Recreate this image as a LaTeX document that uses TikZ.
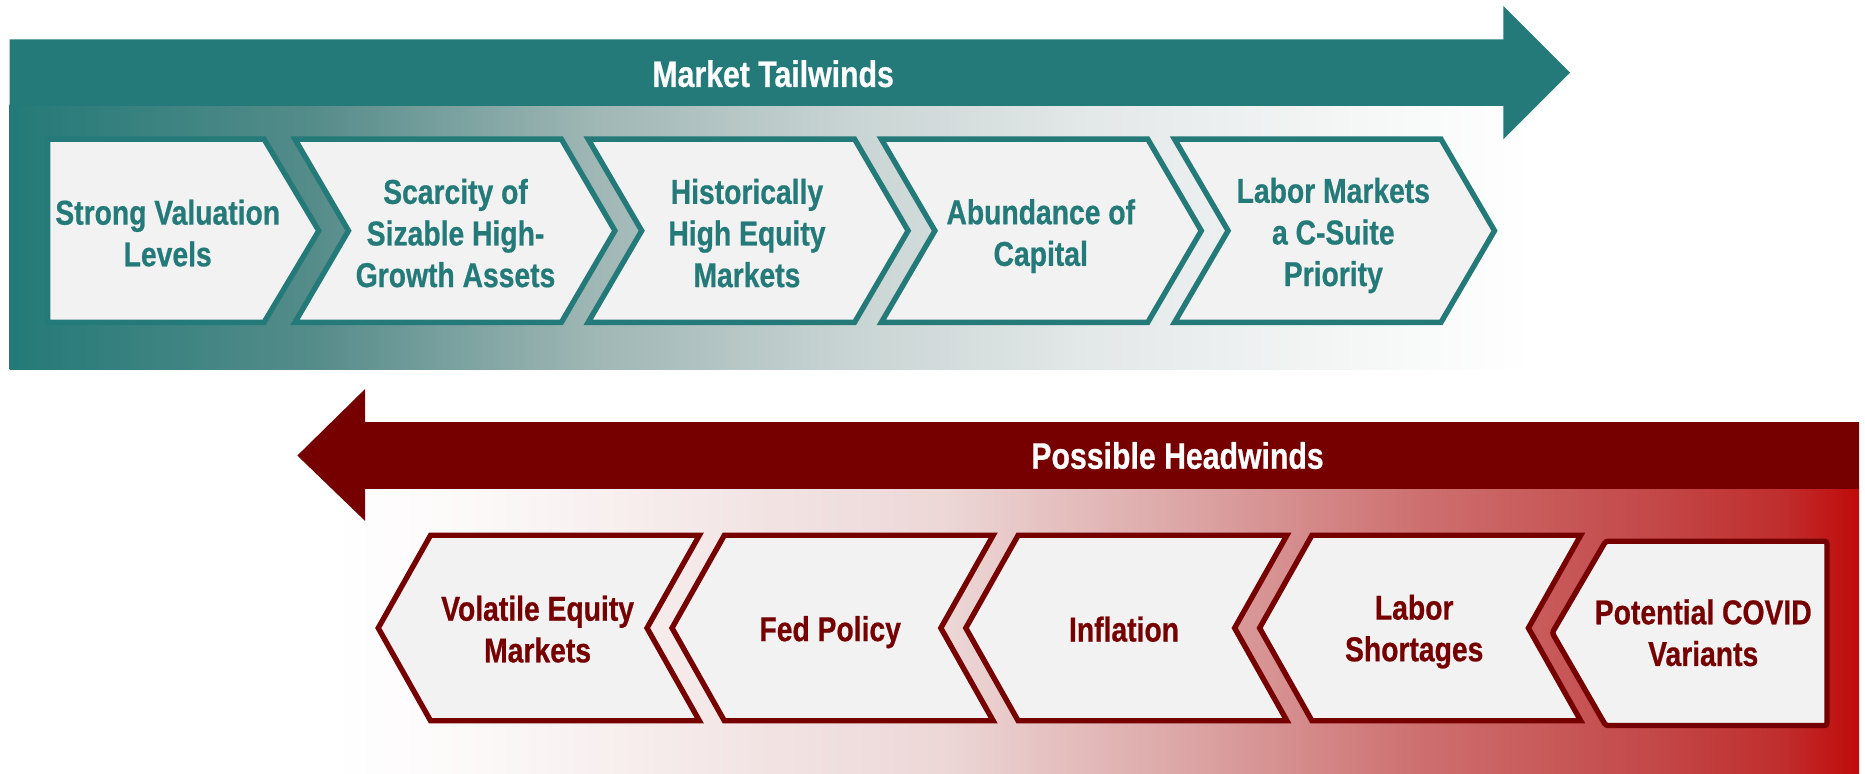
\documentclass[tikz,border=0pt]{standalone}
\usepackage{fontspec}
\setmainfont{Liberation Sans}[FakeStretch=0.82, BoldFeatures={FakeBold=0.6}]
\definecolor{teal1}{RGB}{35,122,120}
\definecolor{dred}{RGB}{118,0,0}
\definecolor{boxfill}{RGB}{242,242,242}
\definecolor{tA}{RGB}{85,140,138}
\definecolor{tB}{RGB}{158,182,180}
\definecolor{tC}{RGB}{200,212,211}
\definecolor{tD}{RGB}{226,231,231}
\definecolor{tE}{RGB}{242,244,244}
\definecolor{rA}{RGB}{252,248,248}
\definecolor{rB}{RGB}{244,231,231}
\definecolor{rC}{RGB}{237,215,215}
\definecolor{rD}{RGB}{220,165,165}
\definecolor{rE}{RGB}{205,110,110}
\definecolor{rF}{RGB}{195,70,70}
\definecolor{rG}{RGB}{192,45,45}
\definecolor{rH}{RGB}{192,10,10}
\pgfdeclarehorizontalshading{tealfade}{100bp}{color(0bp)=(teal1); color(25bp)=(teal1); color(35bp)=(tA); color(44bp)=(tB); color(52.5bp)=(tC); color(60bp)=(tD); color(67.5bp)=(tE); color(75bp)=(white); color(100bp)=(white)}
\pgfdeclarehorizontalshading{redfade}{100bp}{color(0bp)=(white); color(25bp)=(white); color(30bp)=(rA); color(37.5bp)=(rB); color(45bp)=(rC); color(53bp)=(rD); color(60.8bp)=(rE); color(68.6bp)=(rF); color(72.5bp)=(rG); color(75bp)=(rH); color(100bp)=(rH)}
\begin{document}
\begin{tikzpicture}[x=1pt,y=-1pt,
  tbox/.style={draw=teal1, line width=4.5pt, fill=boxfill},
  rbox/.style={draw=dred, line width=4.5pt, fill=boxfill},
  ttext/.style={text=teal1, font=\bfseries\fontsize{29}{35}\selectfont, align=center, inner sep=0pt},
  rtext/.style={text=dred, font=\bfseries\fontsize{29}{35}\selectfont, align=center, inner sep=0pt},
  titletext/.style={text=white, font=\bfseries\fontsize{31}{37}\selectfont, inner sep=0pt}]
\useasboundingbox (0,0) rectangle (1568,650.7);
% top arrow
\shade[shading=tealfade] (8,88) rectangle (1290,311);
\fill[teal1] (8,33) -- (1264,33) -- (1264,5) -- (1320,61) -- (1264,117) -- (1264,89) -- (8,89) -- cycle;
\node[titletext] (tw) at (650,62) {Market Tailwinds};
% top chevrons
\draw[tbox] (40,117) -- (222,117) -- (268,194) -- (222,271) -- (40,271) -- cycle;
\draw[tbox] (248,117) -- (472,117) -- (517,194) -- (472,271) -- (248,271) -- (293,194) -- cycle;
\draw[tbox] (494.5,117) -- (718.5,117) -- (763.5,194) -- (718.5,271) -- (494.5,271) -- (539.5,194) -- cycle;
\draw[tbox] (741,117) -- (965,117) -- (1010,194) -- (965,271) -- (741,271) -- (786,194) -- cycle;
\draw[tbox] (987.5,117) -- (1211.5,117) -- (1256.5,194) -- (1211.5,271) -- (987.5,271) -- (1032.5,194) -- cycle;
\node[ttext] (t1) at (141,196) {Strong Valuation\\Levels};
\node[ttext] (t2) at (383,196) {Scarcity of\\Sizable High-\\Growth Assets};
\node[ttext] (t3) at (628,196) {Historically\\High Equity\\Markets};
\node[ttext] (t4) at (875,198.5) {Abundance of\\Capital};
\node[ttext] (t5) at (1121,198) {Labor Markets\\a C-Suite\\Priority};
% bottom arrow
\shade[shading=redfade] (280,410) rectangle (1563,650.7);
\fill[dred] (1563,355) -- (307,355) -- (307,327) -- (250,383) -- (307,438) -- (307,411) -- (1563,411) -- cycle;
\node[titletext] (hw) at (990,383) {Possible Headwinds};
% bottom chevrons
\draw[rbox] (318,528) -- (362,450) -- (588,450) -- (544,528) -- (588,606) -- (362,606) -- cycle;
\draw[rbox] (565,528) -- (609,450) -- (835,450) -- (791,528) -- (835,606) -- (609,606) -- cycle;
\draw[rbox] (812,528) -- (856,450) -- (1082,450) -- (1038,528) -- (1082,606) -- (856,606) -- cycle;
\draw[rbox] (1059,528) -- (1103,450) -- (1329,450) -- (1285,528) -- (1329,606) -- (1103,606) -- cycle;
\draw[rbox, rounded corners=2pt] (1305,532) -- (1350,455) -- (1536,455) -- (1536,610) -- (1350,610) -- cycle;
\node[rtext] (h1) at (452,529) {Volatile Equity\\Markets};
\node[rtext] (h2) at (698,531.5) {Fed Policy};
\node[rtext] (h3) at (945,529) {Inflation};
\node[rtext] (h4) at (1189,531) {Labor\\Shortages};
\node[rtext] (h5) at (1432,532) {Potential COVID\\Variants};
\end{tikzpicture}
\end{document}
